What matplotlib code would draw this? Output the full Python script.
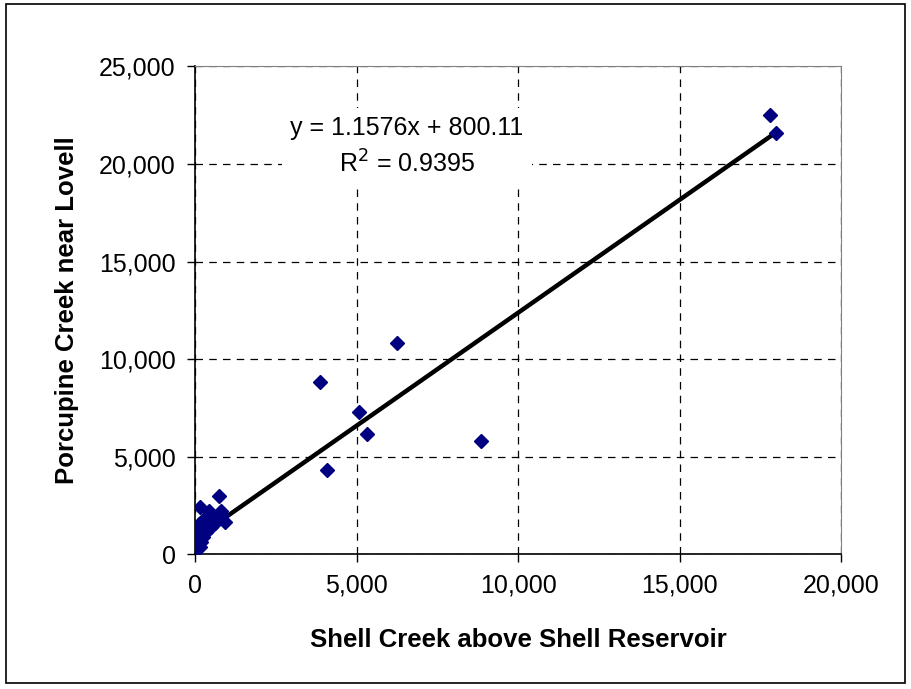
import matplotlib
matplotlib.use("Agg")
import matplotlib.pyplot as plt
from matplotlib.patches import Rectangle
from matplotlib.ticker import FuncFormatter

plt.rcParams["font.family"] = ["Liberation Sans", "DejaVu Sans"]

# Shell Creek above Shell Reservoir (x) vs Porcupine Creek near Lovell (y)
shell_creek = [
    17815, 17978, 6245, 3861, 5068, 5337, 8845, 4087,
    730, 160, 800, 940, 280, 530, 690, 400, 220, 60, 30, 90,
    150, 60, 250, 340, 500, 620, 840, 440, 110, 40, 40, 180,
]
porcupine_creek = [
    22517, 21579, 10830, 8830, 7278, 6151, 5807, 4321,
    2985, 2430, 2200, 1640, 1790, 2000, 1800, 1430, 1280, 1020, 770, 510,
    360, 250, 870, 1130, 1380, 1590, 2000, 2220, 1550, 400, 1200, 650,
]

slope = 1.1576
intercept = 800.11
r_squared = 0.9395

fig = plt.figure(figsize=(9.12, 6.89), dpi=100)
ax = fig.add_axes([0.2138, 0.1955, 0.7084, 0.708])

# outer chart border
fig.patches.append(Rectangle((6 / 912, 6 / 689), 899 / 912, 679 / 689,
                             transform=fig.transFigure, fill=False,
                             edgecolor="black", linewidth=1.2))

ax.grid(True, color="black", linestyle=(0, (6, 5)), linewidth=0.9)
ax.set_axisbelow(True)

x_fit = [min(shell_creek), max(shell_creek)]
y_fit = [slope * v + intercept for v in x_fit]
ax.plot(x_fit, y_fit, color="black", linewidth=3.2, zorder=3, solid_capstyle="butt")

ax.plot(shell_creek, porcupine_creek, linestyle="none", marker="D",
        markersize=7.5, color="#000080", markeredgecolor="#000080", zorder=4)

ax.set_xlim(0, 20000)
ax.set_ylim(0, 25000)
ax.set_xticks(range(0, 20001, 5000))
ax.set_yticks(range(0, 25001, 5000))
fmt = FuncFormatter(lambda v, p: f"{int(v):,}")
ax.xaxis.set_major_formatter(fmt)
ax.yaxis.set_major_formatter(fmt)
ax.tick_params(labelsize=18, direction="out", length=6, width=1, pad=8)

for side in ["top", "right"]:
    ax.spines[side].set_color("#808080")
for side in ["left", "bottom"]:
    ax.spines[side].set_color("black")
    ax.spines[side].set_linewidth(1.2)

ax.set_xlabel("Shell Creek above Shell Reservoir", fontsize=18.5, fontweight="bold", labelpad=22)
ax.set_ylabel("Porcupine Creek near Lovell", fontsize=18.5, fontweight="bold", labelpad=14)

ax.text(0.3277, 0.835, f"y = {slope}x + {intercept}\nR$^2$ = {r_squared}",
        transform=ax.transAxes, ha="center", va="center", multialignment="center",
        fontsize=18, linespacing=1.45, zorder=5,
        bbox=dict(facecolor="white", edgecolor="none", pad=6))

fig.savefig("out.png", dpi=100)
